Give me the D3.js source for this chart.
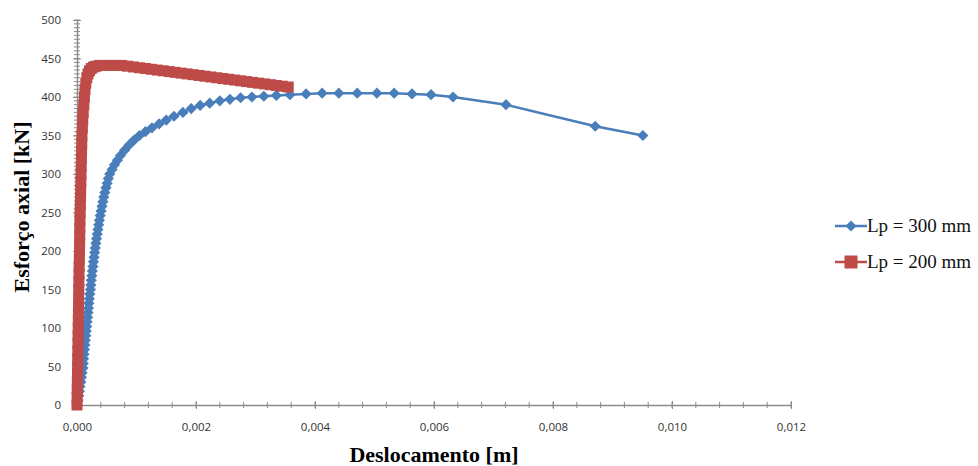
<!DOCTYPE html>
<html>
<head>
<meta charset="utf-8">
<script src="https://cdn.jsdelivr.net/npm/d3@7"></script>
<style>
  body { margin: 0; background: #fff; }
  .tick text { font-family: "Open Sans", "Liberation Sans", sans-serif; font-size: 11.5px; fill: #333; }
</style>
</head>
<body>
<script>
// values (x in m, y in kN)
var series1Name = "Lp = 300 mm";
var series1X = [0, 0.000015, 0.00003, 0.00004, 0.00005, 0.000065, 0.000075, 0.000085, 0.0001, 0.000105,
  0.00011, 0.000118, 0.000125, 0.000132, 0.00014, 0.000147, 0.000155, 0.000163, 0.00017, 0.000178,
  0.000185, 0.000193, 0.0002, 0.000208, 0.000215, 0.000225, 0.000233, 0.00024, 0.00025, 0.000258,
  0.000268, 0.000277, 0.000287, 0.000297, 0.000307, 0.000317, 0.000328, 0.00034, 0.000352, 0.000364,
  0.000377, 0.00039, 0.000405, 0.00042, 0.000435, 0.00045, 0.000468, 0.000487, 0.000507, 0.000527,
  0.00055, 0.00059, 0.00063, 0.00068, 0.00073, 0.0008, 0.00088,
  0.00096, 0.00105, 0.00115, 0.00126, 0.00138, 0.0015, 0.00163, 0.00178, 0.00192, 0.00207,
  0.00223, 0.0024, 0.00257, 0.00275, 0.00294, 0.00314, 0.00335, 0.00358, 0.00385, 0.00412,
  0.0044, 0.00471, 0.00504, 0.00533, 0.00563, 0.00595, 0.00632, 0.00721, 0.00871, 0.00951];
var series1Y = [0, 6, 12, 18, 24, 30, 36, 42, 48, 54,
  60, 66, 72, 78, 84, 90, 96, 102, 108, 114,
  120, 126, 132, 138, 144, 150, 156, 162, 168, 174,
  180, 186, 192, 198, 204, 210, 216, 222, 228, 234,
  240, 246, 252, 258, 264, 270, 276, 282, 288, 294,
  300, 306, 312, 318, 324, 331, 338,
  344, 350, 355, 360, 365, 370, 375, 380, 385, 389,
  392, 395, 397, 399, 400, 401, 402, 403, 404, 405,
  405, 405, 405, 405, 404, 403, 400, 390, 362, 350];

var series2Name = "Lp = 200 mm";
var series2X = [0, 0.000002, 0.000004, 0.000006, 0.000008, 0.00001, 0.000012, 0.000014, 0.000016, 0.000018,
  0.00002, 0.000022, 0.000024, 0.000026, 0.000028, 0.00003, 0.000032, 0.000034, 0.000036, 0.000039,
  0.000042, 0.000044, 0.000046, 0.000048, 0.00005, 0.000053, 0.000056, 0.000059, 0.000062, 0.000065,
  0.000068, 0.000071, 0.000074, 0.000077, 0.00008, 0.000083, 0.00009, 0.000097, 0.000105, 0.000115,
  0.000125, 0.000135, 0.000148, 0.000165, 0.000185, 0.00021, 0.00024, 0.00028, 0.00032, 0.00038,
  0.00045, 0.00055, 0.00065, 0.00075, 0.00085, 0.00095, 0.00105, 0.00115, 0.00125, 0.00135,
  0.00145, 0.00155, 0.00165, 0.00175, 0.00185, 0.00195, 0.00205, 0.00215, 0.00225, 0.00235,
  0.00245, 0.00255, 0.00265, 0.00275, 0.00285, 0.00295, 0.00305, 0.00315, 0.00325, 0.00335,
  0.00345, 0.00355];
var series2Y = [0, 10, 20, 30, 40, 50, 60, 70, 80, 90,
  100, 110, 120, 130, 140, 150, 160, 170, 180, 190,
  200, 210, 220, 230, 240, 250, 260, 270, 280, 290,
  300, 310, 320, 330, 340, 350, 360, 370, 380, 390,
  400, 410, 418, 425, 430, 434, 437, 439, 440, 441,
  441, 441, 441, 441, 440, 439, 438, 437, 436, 435,
  434, 433, 432, 431, 430, 429, 428, 427, 426, 425,
  424, 423, 422, 421, 420, 419, 418, 417, 416, 415,
  414, 413];

var xTicks = [0, 0.002, 0.004, 0.006, 0.008, 0.010, 0.012];
var yTicks = [0, 50, 100, 150, 200, 250, 300, 350, 400, 450, 500];

// layout
var W = 978, H = 466;
var margin = {top: 20, left: 77};
var pw = 714, ph = 385;

var svg = d3.select("body").append("svg")
  .attr("width", W).attr("height", H);

var g = svg.append("g")
  .attr("transform", "translate(" + margin.left + "," + margin.top + ")");

var x = d3.scaleLinear().domain([0, 0.012]).range([0, pw]);
var y = d3.scaleLinear().domain([0, 500]).range([ph, 0]);

var axisColor = "#8c8c8c";
var comma = function(d) { return d3.format(".3f")(d).replace(".", ","); };

// minor ticks (crossing the axis)
g.append("g").selectAll("line")
  .data(d3.range(0, 0.01201, 0.0004))
  .enter().append("line")
  .attr("x1", function(d) { return x(d); }).attr("x2", function(d) { return x(d); })
  .attr("y1", ph - 3).attr("y2", ph + 3)
  .attr("stroke", axisColor).attr("stroke-width", 1);

g.append("g").selectAll("line")
  .data(d3.range(0, 501, 5))
  .enter().append("line")
  .attr("y1", function(d) { return y(d); }).attr("y2", function(d) { return y(d); })
  .attr("x1", -3).attr("x2", 3)
  .attr("stroke", axisColor).attr("stroke-width", 1);

// x axis
var xAxis = g.append("g")
  .attr("transform", "translate(0," + ph + ")")
  .call(d3.axisBottom(x).tickValues(xTicks).tickFormat(comma).tickSizeInner(4).tickSizeOuter(0).tickPadding(14));
xAxis.select(".domain").attr("stroke", axisColor).attr("stroke-width", 1.5);
xAxis.selectAll(".tick line").attr("stroke", axisColor).attr("y1", -4);

// y axis
var yAxis = g.append("g")
  .call(d3.axisLeft(y).tickValues(yTicks).tickSizeInner(4).tickSizeOuter(0).tickPadding(12));
yAxis.select(".domain").attr("stroke", axisColor).attr("stroke-width", 1.5);
yAxis.selectAll(".tick line").attr("stroke", axisColor).attr("x1", 4);

var line = d3.line()
  .x(function(d) { return x(d[0]); })
  .y(function(d) { return y(d[1]); });

var blue = "#4a7ebb", red = "#be4b48";
var data1 = series1X.map(function(v, i) { return [v, series1Y[i]]; });
var data2 = series2X.map(function(v, i) { return [v, series2Y[i]]; });

var diamond = d3.symbol().type(d3.symbolDiamond2).size(80);

// series 1: diamonds
g.append("path").datum(data1)
  .attr("d", line).attr("fill", "none")
  .attr("stroke", blue).attr("stroke-width", 2.5);
g.append("g").selectAll("path")
  .data(data1).enter().append("path")
  .attr("d", diamond)
  .attr("transform", function(d) { return "translate(" + x(d[0]) + "," + y(d[1]) + ")"; })
  .attr("fill", blue);

// series 2: squares
g.append("path").datum(data2)
  .attr("d", line).attr("fill", "none")
  .attr("stroke", red).attr("stroke-width", 2.5);
g.append("g").selectAll("rect")
  .data(data2).enter().append("rect")
  .attr("x", function(d) { return x(d[0]) - 5.5; })
  .attr("y", function(d) { return y(d[1]) - 5.5; })
  .attr("width", 11).attr("height", 11)
  .attr("fill", red);

// axis titles
svg.append("text")
  .attr("x", 434).attr("y", 462)
  .attr("text-anchor", "middle")
  .style("font-family", "'Liberation Serif', serif")
  .style("font-weight", "bold").style("font-size", "22px")
  .text("Deslocamento [m]");

svg.append("text")
  .attr("transform", "translate(29,207) rotate(-90)")
  .attr("text-anchor", "middle")
  .style("font-family", "'Liberation Serif', serif")
  .style("font-weight", "bold").style("font-size", "22px")
  .text("Esforço axial [kN]");

// legend
var legend = svg.append("g");
var items = [
  {name: series1Name, color: blue, y: 226, shape: "diamond"},
  {name: series2Name, color: red, y: 262, shape: "square"}
];
items.forEach(function(it) {
  legend.append("line")
    .attr("x1", 835).attr("x2", 867).attr("y1", it.y).attr("y2", it.y)
    .attr("stroke", it.color).attr("stroke-width", 2.5);
  if (it.shape == "diamond") {
    legend.append("path")
      .attr("d", d3.symbol().type(d3.symbolDiamond2).size(80))
      .attr("transform", "translate(851," + it.y + ")")
      .attr("fill", it.color);
  } else {
    legend.append("rect")
      .attr("x", 844.5).attr("y", it.y - 6.5).attr("width", 13).attr("height", 13)
      .attr("fill", it.color);
  }
  legend.append("text")
    .attr("x", 867).attr("y", it.y + 6)
    .style("font-family", "'Liberation Serif', serif")
    .style("font-size", "19px").attr("fill", "#111")
    .text(it.name);
});
</script>
</body>
</html>
